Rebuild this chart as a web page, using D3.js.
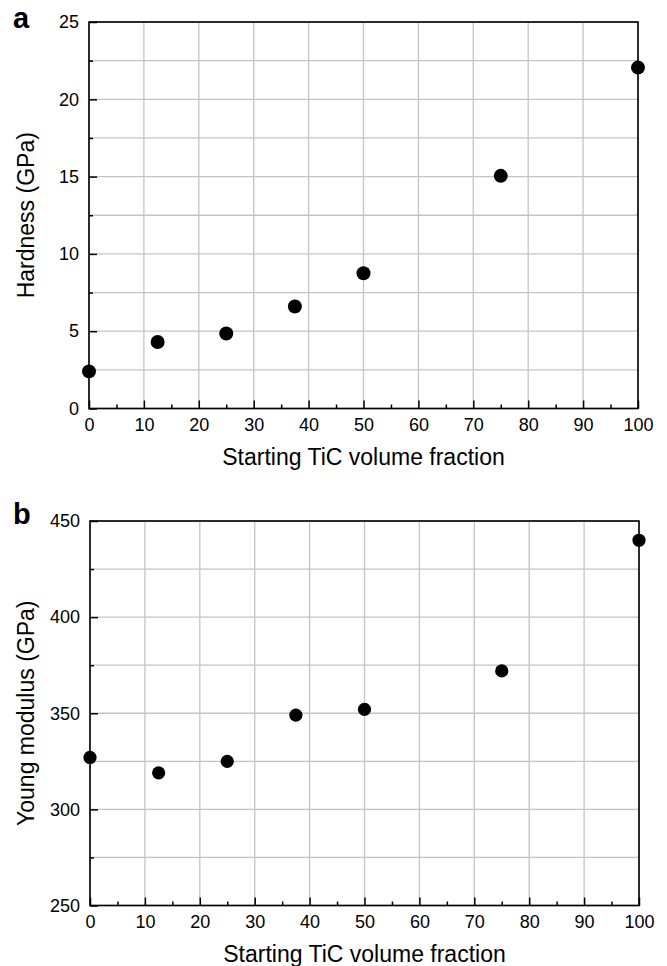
<!DOCTYPE html>
<html>
<head>
<meta charset="utf-8">
<script src="https://cdn.jsdelivr.net/npm/d3@7"></script>
<style>
  body { margin: 0; background: #fff; }
  text { font-family: "Liberation Sans", Arial, sans-serif; fill: #000; }
</style>
</head>
<body>
<svg width="667" height="966"></svg>
<script>
const width = 667;
const height = 966;

// shared x values (starting TiC volume fraction)
const tic = [0, 12.5, 25, 37.5, 50, 75, 100];
const hardness = [2.4, 4.3, 4.85, 6.6, 8.75, 15.05, 22.05];
const youngModulus = [327, 319, 325, 349, 352, 372, 440];

const xTicks = [0, 10, 20, 30, 40, 50, 60, 70, 80, 90, 100];
const hardnessTicks = [0, 5, 10, 15, 20, 25];
const modulusTicks = [250, 300, 350, 400, 450];

const svg = d3.select("svg");

const panels = [
    {
        letter: "a", yLabel: "Hardness (GPa)", values: hardness,
        yDomain: [0, 25], yTicks: hardnessTicks, yStep: 2.5,
        left: 89, right: 638, top: 22, bottom: 408.5, r: 7, letterY: 28,
    },
    {
        letter: "b", yLabel: "Young modulus (GPa)", values: youngModulus,
        yDomain: [250, 450], yTicks: modulusTicks, yStep: 25,
        left: 90, right: 639, top: 521, bottom: 905.5, r: 6.6, letterY: 524,
    },
];

panels.forEach((p) => {
    const x = d3.scaleLinear().domain([0, 100]).range([p.left, p.right]);
    const y = d3.scaleLinear().domain(p.yDomain).range([p.bottom, p.top]);
    const g = svg.append("g");

    // 網格
    const yGrid = d3.range(p.yDomain[0], p.yDomain[1] + 0.001, p.yStep);
    g.append("g")
        .selectAll("line")
        .data(yGrid)
        .join("line")
        .attr("x1", p.left).attr("x2", p.right)
        .attr("y1", (d) => y(d)).attr("y2", (d) => y(d))
        .attr("stroke", "#c4c4c4").attr("stroke-width", 1.3);
    g.append("g")
        .selectAll("line")
        .data(xTicks)
        .join("line")
        .attr("x1", (d) => x(d)).attr("x2", (d) => x(d))
        .attr("y1", p.top).attr("y2", p.bottom)
        .attr("stroke", "#c4c4c4").attr("stroke-width", 1.3);

    // inward ticks
    g.append("g")
        .attr("transform", `translate(0, ${p.bottom})`)
        .call(d3.axisBottom(x).tickValues(xTicks).tickSize(-8).tickPadding(10).tickFormat(d3.format("d")));
    g.append("g")
        .attr("transform", `translate(0, ${p.bottom})`)
        .call(d3.axisBottom(x).tickValues(d3.range(5, 100, 10)).tickSize(-4).tickFormat(""));
    g.append("g")
        .attr("transform", `translate(${p.left}, 0)`)
        .call(d3.axisLeft(y).tickValues(p.yTicks).tickSize(-8).tickPadding(10).tickFormat(d3.format("d")));
    g.append("g")
        .attr("transform", `translate(${p.left}, 0)`)
        .call(d3.axisLeft(y).tickValues(yGrid.filter((d) => !p.yTicks.includes(d))).tickSize(-4).tickFormat(""));

    g.selectAll(".tick line").attr("stroke", "#000").attr("stroke-width", 1.5);
    g.selectAll(".domain").remove();
    g.selectAll(".tick text").style("font-size", "18px").attr("fill", "#000");

    // frame
    g.append("rect")
        .attr("x", p.left).attr("y", p.top)
        .attr("width", p.right - p.left).attr("height", p.bottom - p.top)
        .attr("fill", "none").attr("stroke", "#000").attr("stroke-width", 1.6);

    // points
    g.append("g")
        .selectAll("circle")
        .data(tic)
        .join("circle")
        .attr("cx", (d) => x(d))
        .attr("cy", (d, i) => y(p.values[i]))
        .attr("r", p.r)
        .attr("fill", "#000");

    // labels
    g.append("text")
        .attr("x", (p.left + p.right) / 2)
        .attr("y", p.bottom + 56.5)
        .attr("text-anchor", "middle")
        .style("font-size", "23px")
        .text("Starting TiC volume fraction");
    g.append("text")
        .attr("transform", `translate(34, ${(p.top + p.bottom) / 2}) rotate(-90)`)
        .attr("text-anchor", "middle")
        .style("font-size", "23px")
        .text(p.yLabel);
    g.append("text")
        .attr("x", 13)
        .attr("y", p.letterY)
        .style("font-size", "29px")
        .style("font-weight", "bold")
        .text(p.letter);
});
</script>
</body>
</html>
